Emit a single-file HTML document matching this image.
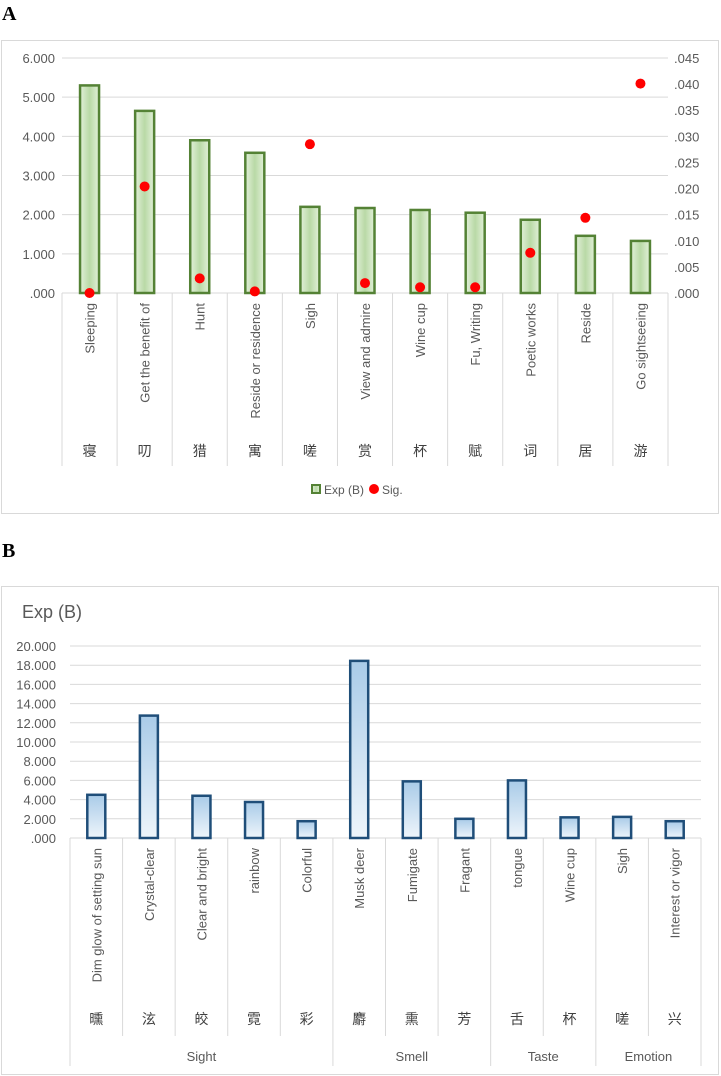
<!DOCTYPE html>
<html><head><meta charset="utf-8"><style>
body{margin:0;background:#fff;width:721px;height:1076px;overflow:hidden}
svg{display:block;font-family:"Liberation Sans","Noto Sans CJK SC",sans-serif}
</style></head><body>
<svg id="s" width="721" height="1076">
<defs>
<linearGradient id="gg" x1="0" x2="1" y1="0" y2="0"><stop offset="0" stop-color="#e2f0d9"/><stop offset="0.5" stop-color="#b9d9a6"/><stop offset="1" stop-color="#e2f0d9"/></linearGradient>
<linearGradient id="bg" x1="0" x2="0" y1="0" y2="1"><stop offset="0" stop-color="#a9cbe8"/><stop offset="1" stop-color="#eef5fb"/></linearGradient>
</defs>
<text x="2" y="20" font-family="Liberation Serif" font-weight="bold" font-size="20">A</text>
<text x="2" y="557" font-family="Liberation Serif" font-weight="bold" font-size="20">B</text>
<rect x="1.5" y="40.5" width="717" height="473" fill="#fff" stroke="#d9d9d9"/>
<rect x="1.5" y="586.5" width="717" height="488" fill="#fff" stroke="#d9d9d9"/>
<g id="ga"></g>
<g id="gb"></g>
</svg>
<script>
const catsA=["Sleeping","Get the benefit of","Hunt","Reside or residence","Sigh","View and admire","Wine cup","Fu, Writing","Poetic works","Reside","Go sightseeing"];
const zhA=["寝","叨","猎","寓","嗟","赏","杯","赋","词","居","游"];
const expA=[5.30,4.65,3.90,3.58,2.20,2.17,2.12,2.05,1.87,1.46,1.33];
const sigA=[0.0000,0.0204,0.0028,0.0003,0.0285,0.0019,0.0011,0.0011,0.0077,0.0144,0.0401];
const ticksA=[0,1,2,3,4,5,6];
const ticksA2=[0,0.005,0.01,0.015,0.02,0.025,0.03,0.035,0.04,0.045];
const catsB=["Dim glow of setting sun","Crystal-clear","Clear and bright","rainbow","Colorful","Musk deer","Fumigate","Fragant","tongue","Wine cup","Sigh","Interest or vigor"];
const zhB=["曛","泫","皎","霓","彩","麝","熏","芳","舌","杯","嗟","兴"];
const expB=[4.5,12.75,4.4,3.75,1.75,18.45,5.9,2.0,6.0,2.15,2.2,1.75];
const groupsB=["Sight","Smell","Taste","Emotion"];
const groupSizes=[5,3,2,2];
const ticksB=[0,2,4,6,8,10,12,14,16,18,20];
const NS="http://www.w3.org/2000/svg";
function mk(p,t,a,txt){const e=document.createElementNS(NS,t);for(const k in a)e.setAttribute(k,a[k]);if(txt!=null)e.textContent=txt;p.appendChild(e);return e;}
function fmt(v,d){let s=v.toFixed(d);if(s.startsWith("0"))s=s.slice(1);return s;}
(function(){
const g=document.getElementById('ga');
const L=62,R=668,T=58,B=293,n=catsA.length,w=(R-L)/n;
const y=v=>B-(v/6)*(B-T), y2=v=>B-(v/0.045)*(B-T), x=i=>L+w*(i+0.5);
ticksA.forEach(t=>{const l=mk(g,'line',{x1:L,x2:R,y1:y(t),y2:y(t),stroke:'#d9d9d9'});

const tx=mk(g,'text',{x:55,y:y(t)+5,'text-anchor':'end','font-size':13,fill:'#595959'},fmt(t,3));
});
ticksA2.forEach(t=>{const tx=mk(g,'text',{x:674,y:y2(t)+5,'font-size':13,fill:'#595959'},fmt(t,3));
});
for(let i=0;i<=n;i++){const l=mk(g,'line',{x1:L+w*i,x2:L+w*i,y1:B,y2:466,stroke:'#d9d9d9'});
}
expA.forEach((v,i)=>{const r=mk(g,'rect',{x:x(i)-9.5,y:y(v),width:19,height:B-y(v),fill:'url(#gg)',stroke:'#548235','stroke-width':2.5});
});
sigA.forEach((v,i)=>{const c=mk(g,'circle',{cx:x(i),cy:y2(v),r:5,fill:'#ff0000'});
});
catsA.forEach((c,i)=>{const t=mk(g,'text',{transform:`translate(${x(i)+5},303) rotate(-90)`,'text-anchor':'end','font-size':13,fill:'#595959'},c);

const z=mk(g,'text',{x:x(i),y:456,'text-anchor':'middle','font-size':14,fill:'#404040'},zhA[i]);
});
const lg=mk(g,'g',{});
const s=mk(lg,'rect',{x:312,y:485,width:8,height:8,fill:'url(#gg)',stroke:'#548235','stroke-width':2});

const t1=mk(lg,'text',{x:324,y:494,'font-size':12,fill:'#595959'},'Exp (B)');

const d=mk(lg,'circle',{cx:374,cy:489,r:5,fill:'#ff0000'});

const t2=mk(lg,'text',{x:382,y:494,'font-size':12,fill:'#595959'},'Sig.');

})();
(function(){
const g=document.getElementById('gb');
const L=70,R=701,T=646,B=838,n=catsB.length,w=(R-L)/n;
const y=v=>B-(v/20)*(B-T), x=i=>L+w*(i+0.5);
const tt=mk(g,'text',{x:22,y:618,'font-size':18,fill:'#595959'},'Exp (B)');

ticksB.forEach(t=>{const l=mk(g,'line',{x1:L,x2:R,y1:y(t),y2:y(t),stroke:'#d9d9d9'});

const tx=mk(g,'text',{x:56,y:y(t)+5,'text-anchor':'end','font-size':13,fill:'#595959'},fmt(t,3));
});
for(let i=0;i<=n;i++){const l=mk(g,'line',{x1:L+w*i,x2:L+w*i,y1:B,y2:1036,stroke:'#d9d9d9'});
}
let acc=0;
[0,...groupSizes].forEach((s,k)=>{acc+=s;const l=mk(g,'line',{x1:L+w*acc,x2:L+w*acc,y1:1036,y2:1066,stroke:'#d9d9d9'});
});
acc=0;groupsB.forEach((gname,k)=>{const cx=L+w*(acc+groupSizes[k]/2);acc+=groupSizes[k];
const t=mk(g,'text',{x:cx,y:1061,'text-anchor':'middle','font-size':13,fill:'#595959'},gname);
});
expB.forEach((v,i)=>{const r=mk(g,'rect',{x:x(i)-9,y:y(v),width:18,height:B-y(v),fill:'url(#bg)',stroke:'#1f4e79','stroke-width':2.5});
});
catsB.forEach((c,i)=>{const t=mk(g,'text',{transform:`translate(${x(i)+5},848) rotate(-90)`,'text-anchor':'end','font-size':13,fill:'#595959'},c);

const z=mk(g,'text',{x:x(i),y:1024,'text-anchor':'middle','font-size':14,fill:'#404040'},zhB[i]);
});
})();
</script>
</body></html>
